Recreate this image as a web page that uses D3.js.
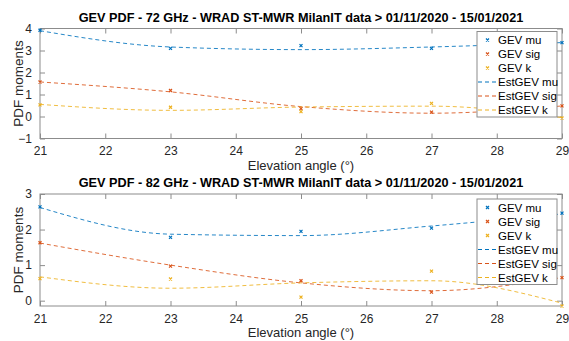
<!DOCTYPE html>
<html>
<head>
<meta charset="utf-8">
<script src="https://cdn.jsdelivr.net/npm/d3@7"></script>
<style>
  html, body { margin: 0; padding: 0; background: #fff; }
  svg { display: block; font-family: "Liberation Sans", Arial, sans-serif; }
</style>
</head>
<body>
<svg id="chart" width="569" height="341"></svg>
<script>
// Elevation angles (degrees)
const elevations = [21, 23, 25, 27, 29];
const xTicks = [21, 22, 23, 24, 25, 26, 27, 28, 29];

// 72 GHz: fitted GEV parameters and estimated curves
const gev72Mu  = [3.92, 3.10, 3.22, 3.10, 3.36];
const gev72Sig = [1.57, 1.18, 0.36, 0.20, 0.48];
const gev72K   = [0.53, 0.42, 0.22, 0.60, -0.07];
const est72Mu  = [3.90, 3.16, 3.04, 3.16, 3.36];
const est72Sig = [1.57, 1.12, 0.45, 0.15, 0.48];
const est72K   = [0.55, 0.28, 0.43, 0.47, -0.05];
const yTicks72 = [-1, 0, 1, 2, 3, 4];

// 82 GHz: fitted GEV parameters and estimated curves
const gev82Mu  = [2.64, 1.78, 1.95, 2.04, 2.46];
const gev82Sig = [1.63, 0.97, 0.56, 0.24, 0.65];
const gev82K   = [0.62, 0.61, 0.10, 0.83, -0.15];
const est82Mu  = [2.62, 1.87, 1.83, 2.10, 2.44];
const est82Sig = [1.62, 1.00, 0.50, 0.28, 0.65];
const est82K   = [0.67, 0.35, 0.50, 0.56, -0.07];
const yTicks82 = [0, 1, 2, 3];

const legendLabels = ["GEV mu", "GEV sig", "GEV k", "EstGEV mu", "EstGEV sig", "EstGEV k"];
const colors = ["#0072BD", "#D95319", "#EDB120"];

const svg = d3.select("#chart");
const axisColor = "#8c8c8c";
const textColor = "#262626";

function drawPanel(cfg) {
  const x = d3.scaleLinear().domain([21, 29]).range([40, 562]);
  const y = d3.scaleLinear().domain(cfg.yDomain).range([cfg.bottom, cfg.top]);
  const g = svg.append("g");

  // axes box
  g.append("rect")
    .attr("x", 40).attr("y", cfg.top)
    .attr("width", 522).attr("height", cfg.bottom - cfg.top)
    .attr("fill", "none").attr("stroke", axisColor).attr("stroke-width", 1);

  const styleAxis = sel => {
    sel.select(".domain").remove();
    sel.selectAll(".tick line").attr("stroke", axisColor);
    sel.selectAll(".tick text").attr("fill", textColor).style("font-size", "12px");
  };

  g.append("g").attr("transform", `translate(0,${cfg.bottom})`)
    .call(d3.axisBottom(x).tickValues(xTicks).tickFormat(d3.format("d")).tickSizeInner(-5).tickSizeOuter(0).tickPadding(8))
    .call(styleAxis);
  g.append("g").attr("transform", `translate(0,${cfg.top})`)
    .call(d3.axisTop(x).tickValues(xTicks).tickFormat("").tickSizeInner(-5).tickSizeOuter(0))
    .call(styleAxis);
  g.append("g").attr("transform", "translate(40,0)")
    .call(d3.axisLeft(y).tickValues(cfg.yTicks).tickFormat(d3.format("d")).tickSizeInner(-5).tickSizeOuter(0).tickPadding(8))
    .call(styleAxis);
  g.append("g").attr("transform", "translate(562,0)")
    .call(d3.axisRight(y).tickValues(cfg.yTicks).tickFormat("").tickSizeInner(-5).tickSizeOuter(0))
    .call(styleAxis);

  // estimated curves (dashed)
  const line = d3.line()
    .x((d, i) => x(elevations[i]))
    .y(d => y(d))
    .curve(d3.curveMonotoneX);
  cfg.est.forEach((vals, k) => {
    g.append("path").datum(vals)
      .attr("d", line)
      .attr("fill", "none")
      .attr("stroke", colors[k])
      .attr("stroke-width", 1)
      .attr("stroke-opacity", 0.85)
      .attr("stroke-dasharray", "4,3");
  });

  // fitted values (x markers)
  const cross = (sel, s) => sel.attr("d", `M${-s},${-s}L${s},${s}M${-s},${s}L${s},${-s}`);
  cfg.gev.forEach((vals, k) => {
    g.selectAll(null).data(vals).enter().append("path")
      .attr("transform", (d, i) => `translate(${x(elevations[i])},${y(d)})`)
      .call(cross, 1.5)
      .attr("fill", "none")
      .attr("stroke", colors[k])
      .attr("stroke-width", 1.2);
  });

  // title
  g.append("text")
    .attr("x", 301).attr("y", cfg.top - 7)
    .attr("text-anchor", "middle")
    .attr("fill", "#000")
    .style("font-size", "12.7px").style("font-weight", "bold")
    .text(cfg.title);

  // axis labels
  g.append("text")
    .attr("x", 301).attr("y", cfg.bottom + 31)
    .attr("text-anchor", "middle").attr("fill", textColor)
    .style("font-size", "13px")
    .text("Elevation angle (°)");
  g.append("text")
    .attr("transform", `translate(23,${(cfg.top + cfg.bottom) / 2}) rotate(-90)`)
    .attr("text-anchor", "middle").attr("fill", textColor)
    .style("font-size", "13.5px")
    .text("PDF moments");

  // legend
  const lg = g.append("g").attr("transform", `translate(477,${cfg.legendTop})`);
  lg.append("rect")
    .attr("width", 80).attr("height", 85.5)
    .attr("fill", "#fff").attr("stroke", axisColor).attr("stroke-width", 1);
  legendLabels.forEach((label, i) => {
    const cy = 8.5 + i * 14;
    const c = colors[i % 3];
    if (i < 3) {
      lg.append("path")
        .attr("transform", `translate(10.5,${cy})`)
        .call(cross, 1.5)
        .attr("stroke", c).attr("stroke-width", 1.2);
    } else {
      lg.append("line")
        .attr("x1", 1).attr("x2", 20).attr("y1", cy).attr("y2", cy)
        .attr("stroke", c).attr("stroke-width", 1)
        .attr("stroke-dasharray", "4,3");
    }
    lg.append("text")
      .attr("x", 21).attr("y", cy + 4)
      .attr("fill", "#000")
      .style("font-size", "11.5px")
      .text(label);
  });
}

drawPanel({
  top: 28.5, bottom: 138.5, yDomain: [-1, 4], yTicks: yTicks72,
  gev: [gev72Mu, gev72Sig, gev72K], est: [est72Mu, est72Sig, est72K],
  title: "GEV PDF - 72 GHz - WRAD ST-MWR MilanIT data > 01/11/2020 - 15/01/2021",
  legendTop: 31.5
});
drawPanel({
  top: 194, bottom: 306, yDomain: [-0.15, 3], yTicks: yTicks82,
  gev: [gev82Mu, gev82Sig, gev82K], est: [est82Mu, est82Sig, est82K],
  title: "GEV PDF - 82 GHz - WRAD ST-MWR MilanIT data > 01/11/2020 - 15/01/2021",
  legendTop: 199
});
</script>
</body>
</html>
